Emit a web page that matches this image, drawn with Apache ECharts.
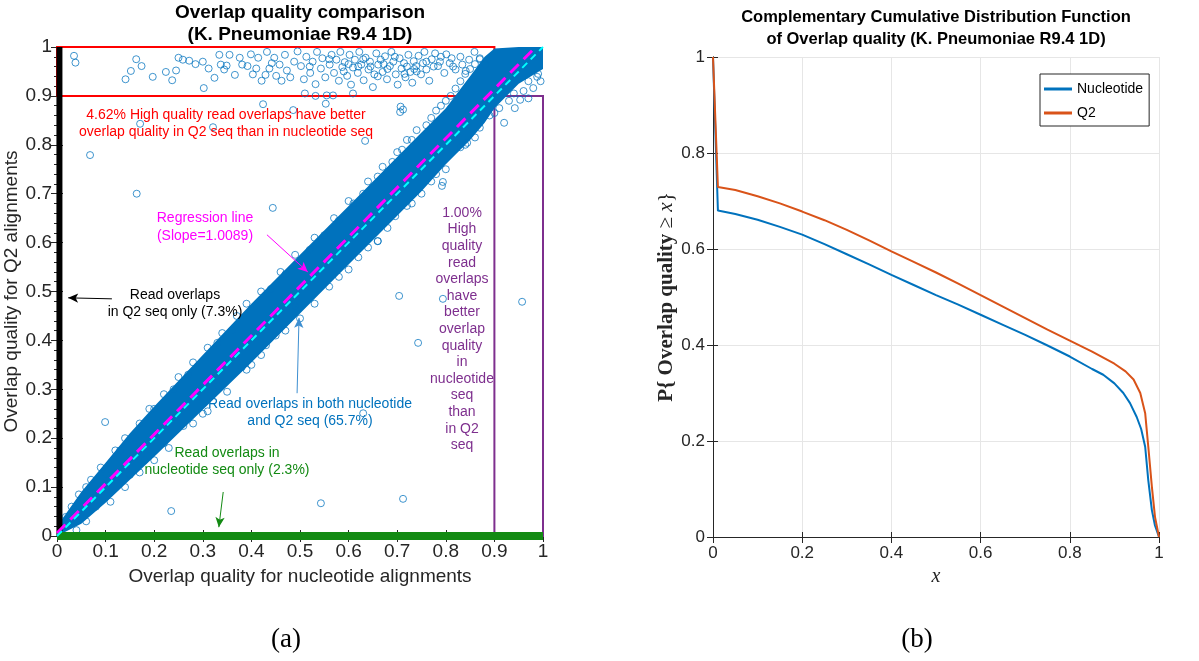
<!DOCTYPE html>
<html>
<head>
<meta charset="utf-8">
<script src="https://cdn.jsdelivr.net/npm/echarts@6/dist/echarts.min.js"></script>
<style>
html, body { margin: 0; padding: 0; background: #fff; }
#chart { width: 1199px; height: 661px; }
</style>
</head>
<body>
<div id="chart"></div>
<script>
// ---- (a) scatter: dense band of read overlaps found in both sequences ----
var bandX     = [0, 0.05, 0.1, 0.15, 0.2, 0.3, 0.4, 0.5, 0.6, 0.7, 0.75, 0.8, 0.85, 0.88, 0.9, 0.95, 1.0];
var bandUpper = [0.02, 0.09, 0.15, 0.21, 0.265, 0.37, 0.475, 0.575, 0.675, 0.775, 0.825, 0.875, 0.94, 0.98, 0.997, 1.0, 1.0];
var bandLower = [0, 0.025, 0.068, 0.115, 0.162, 0.258, 0.355, 0.455, 0.555, 0.655, 0.705, 0.76, 0.81, 0.845, 0.875, 0.925, 0.955];

// circles in the red box (Q2 much better)
var topCluster = [
  [0.035,0.982],[0.038,0.968],[0.141,0.934],[0.152,0.951],[0.163,0.975],[0.174,0.961],[0.197,0.939],
  [0.224,0.949],[0.237,0.932],[0.245,0.952],[0.25,0.978],[0.259,0.974],[0.272,0.972],[0.285,0.965],
  [0.30,0.97],[0.302,0.916],[0.312,0.956],[0.324,0.937],[0.334,0.984],[0.337,0.964],[0.344,0.954],
  [0.349,0.962],[0.355,0.984],[0.366,0.943],[0.376,0.978],[0.381,0.964],[0.392,0.961],[0.399,0.985],
  [0.403,0.944],[0.41,0.956],[0.414,0.978],[0.421,0.931],[0.429,0.943],[0.432,0.99],[0.437,0.956],
  [0.442,0.967],[0.447,0.978],[0.451,0.941],[0.458,0.964],[0.462,0.931],[0.469,0.984],[0.473,0.952],
  [0.48,0.938],[0.488,0.97],[0.495,0.991],[0.502,0.961],[0.508,0.934],[0.51,0.905],[0.513,0.98],
  [0.521,0.947],[0.526,0.97],[0.532,0.924],[0.535,0.99],[0.543,0.956],[0.546,0.977],[0.552,0.938],
  [0.555,0.901],[0.561,0.964],[0.565,0.984],[0.57,0.947],[0.575,0.974],[0.58,0.931],[0.583,0.99],
  [0.587,0.959],[0.592,0.969],[0.597,0.941],[0.602,0.984],[0.605,0.923],[0.609,0.958],[0.613,0.974],
  [0.619,0.947],[0.622,0.99],[0.626,0.964],[0.631,0.932],[0.635,0.978],[0.641,0.954],[0.644,0.97],
  [0.65,0.918],[0.653,0.944],[0.657,0.987],[0.661,0.964],[0.666,0.974],[0.67,0.949],[0.675,0.981],
  [0.679,0.934],[0.685,0.961],[0.688,0.99],[0.692,0.97],[0.697,0.944],[0.701,0.923],[0.705,0.977],
  [0.709,0.956],[0.714,0.967],[0.717,0.938],[0.723,0.984],[0.727,0.949],[0.731,0.927],[0.734,0.971],
  [0.739,0.961],[0.744,0.982],[0.749,0.944],[0.753,0.967],[0.756,0.99],[0.76,0.954],[0.766,0.931],
  [0.771,0.975],[0.778,0.987],[0.784,0.961],[0.788,0.97],[0.797,0.947],[0.801,0.985],[0.808,0.967],
  [0.812,0.977],[0.82,0.954],[0.83,0.98],[0.834,0.964],[0.841,0.951],[0.848,0.974],[0.859,0.99],
  [0.87,0.977],[0.881,0.964],[0.532,0.90],[0.568,0.901],[0.609,0.905],[0.553,0.884],[0.707,0.878],
  [0.712,0.872],[0.59,0.95],[0.62,0.96],[0.66,0.94],[0.68,0.955],[0.72,0.96],[0.74,0.95],[0.76,0.97],
  [0.63,0.975],[0.645,0.96],[0.672,0.965],[0.695,0.98],[0.715,0.945],[0.735,0.955],[0.775,0.96],
  [0.79,0.98],[0.815,0.96],[0.6,0.965],[0.56,0.975],[0.52,0.96]
];

// circles hugging the band edges
var edgeOutliers = [
  [0.018,0.039],[0.045,0.085],[0.07,0.115],[0.101,0.127],[0.13,0.175],[0.16,0.2],[0.2,0.26],[0.24,0.3],
  [0.27,0.33],[0.33,0.395],[0.36,0.42],[0.41,0.47],[0.44,0.505],[0.47,0.535],[0.52,0.585],[0.55,0.615],
  [0.58,0.645],[0.61,0.68],[0.63,0.70],[0.66,0.735],[0.69,0.765],[0.71,0.79],[0.73,0.81],[0.76,0.84],
  [0.78,0.87],[0.80,0.89],[0.82,0.915],[0.84,0.945],[0.86,0.965],[0.08,0.06],[0.15,0.125],[0.18,0.155],
  [0.22,0.19],[0.26,0.225],[0.30,0.25],[0.332,0.307],[0.38,0.345],[0.40,0.35],[0.43,0.39],[0.45,0.41],
  [0.498,0.468],[0.49,0.47],[0.5,0.445],[0.56,0.51],[0.6,0.545],[0.64,0.59],[0.66,0.603],[0.696,0.654],
  [0.72,0.675],[0.75,0.70],[0.78,0.74],[0.83,0.795],[0.87,0.835],[0.90,0.865],[0.92,0.845],[0.93,0.89],
  [0.942,0.875],[0.953,0.892],[0.96,0.91],[0.97,0.895],[0.98,0.916],[0.988,0.939],[0.995,0.93],
  [0.03,0.06],[0.06,0.1],[0.09,0.14],[0.12,0.175],[0.14,0.2],[0.17,0.23],[0.19,0.26],[0.22,0.29],
  [0.25,0.325],[0.28,0.355],[0.31,0.385],[0.34,0.415],[0.37,0.45],[0.39,0.475],[0.42,0.5],[0.46,0.54],
  [0.49,0.575],[0.53,0.61],[0.57,0.65],[0.6,0.685],[0.64,0.725],[0.67,0.755],[0.7,0.785],[0.72,0.81],
  [0.74,0.83],[0.77,0.855],[0.79,0.88],[0.81,0.9],[0.83,0.93],[0.85,0.955],[0.87,0.975],
  [0.04,0.012],[0.06,0.03],[0.11,0.07],[0.14,0.1],[0.17,0.13],[0.2,0.155],[0.23,0.18],[0.28,0.23],
  [0.31,0.255],[0.35,0.295],[0.39,0.34],[0.42,0.37],[0.47,0.42],[0.53,0.475],[0.58,0.53],[0.62,0.57],
  [0.68,0.63],[0.73,0.68],[0.77,0.725],[0.8,0.75],[0.84,0.8],[0.86,0.815],[0.89,0.86],[0.91,0.875],
  [0.94,0.905],[0.97,0.93],[0.99,0.945]
];

// isolated circles
var isolatedOutliers = [
  [0.068,0.779],[0.164,0.70],[0.171,0.843],[0.321,0.836],[0.424,0.883],[0.486,0.871],[0.444,0.671],
  [0.634,0.808],[0.706,0.867],[0.794,0.724],[0.792,0.716],[0.66,0.603],[0.704,0.491],[0.794,0.485],
  [0.957,0.479],[0.743,0.395],[0.844,0.804],[0.099,0.233],[0.235,0.051],[0.63,0.251],[0.543,0.067],
  [0.712,0.076]
];

var q2OnlyStrip = [[0.005, 0], [0.005, 1]];
var nucOnlyStrip = [[0, 0], [1, 0]];
var regressionLine = [[0, 0.006], [0.985, 1.0]];
var diagonalLine = [[0, 0], [1, 1]];

// ---- (b) CCDF curves ----
var nucleotideCurve = [
  [0,1.0],[0.011,0.680],[0.05,0.673],[0.1,0.661],[0.15,0.646],[0.2,0.630],[0.25,0.610],[0.3,0.589],
  [0.35,0.568],[0.4,0.546],[0.45,0.525],[0.5,0.504],[0.55,0.484],[0.6,0.463],[0.65,0.442],[0.7,0.421],
  [0.75,0.399],[0.8,0.376],[0.85,0.350],[0.875,0.338],[0.9,0.320],[0.92,0.300],[0.935,0.279],
  [0.95,0.250],[0.96,0.225],[0.969,0.188],[0.976,0.118],[0.984,0.056],[0.991,0.024],[1.0,0.0]
];
var q2Curve = [
  [0,1.0],[0.011,0.729],[0.05,0.723],[0.1,0.710],[0.15,0.695],[0.2,0.678],[0.25,0.660],[0.3,0.640],
  [0.35,0.618],[0.4,0.595],[0.45,0.573],[0.5,0.551],[0.55,0.528],[0.6,0.504],[0.65,0.480],[0.7,0.456],
  [0.75,0.432],[0.8,0.409],[0.85,0.386],[0.9,0.361],[0.925,0.345],[0.943,0.328],[0.958,0.300],
  [0.969,0.258],[0.976,0.188],[0.984,0.105],[0.991,0.042],[1.0,0.0]
];

var SANS = '"Liberation Sans", Arial, Helvetica, sans-serif';
var SERIF = '"Liberation Serif", "DejaVu Serif", serif';
var AX = '#262626';

function boxAxis(gridIndex, position, interval, minor) {
  return {
    type: 'value', gridIndex: gridIndex, position: position, min: 0, max: 1, interval: interval,
    axisLine: { show: true, lineStyle: { color: AX, width: 1 } },
    axisTick: { show: true, inside: true, length: 6, lineStyle: { color: AX } },
    minorTick: { show: minor, splitNumber: 5, length: 3, lineStyle: { color: AX } },
    axisLabel: { show: false },
    splitLine: { show: false }
  };
}

function textLine(x, y, text, color, size, weight) {
  return {
    type: 'text', x: x, y: y, z: 100,
    style: {
      text: text, fill: color, textAlign: 'center', textVerticalAlign: 'middle',
      font: (weight || 'normal') + ' ' + size + 'px ' + SANS
    }
  };
}

var purpleLines = ['1.00%', 'High', 'quality', 'read', 'overlaps', 'have', 'better', 'overlap',
  'quality', 'in', 'nucleotide', 'seq', 'than', 'in Q2', 'seq'];

var graphics = [
  textLine(300, 13, 'Overlap quality comparison', '#000', 19, 'bold'),
  textLine(300, 35, '(K. Pneumoniae R9.4 1D)', '#000', 19, 'bold'),
  textLine(936, 17, 'Complementary Cumulative Distribution Function', '#000', 16.5, 'bold'),
  textLine(936, 39, 'of Overlap quality (K. Pneumoniae R9.4 1D)', '#000', 16.5, 'bold'),
  textLine(226, 115, '4.62% High quality read overlaps have better', '#ff0000', 14),
  textLine(226, 132, 'overlap quality in Q2 seq than in nucleotide seq', '#ff0000', 14),
  textLine(205, 218, 'Regression line', '#ff00ff', 14),
  textLine(205, 236, '(Slope=1.0089)', '#ff00ff', 14),
  textLine(175, 295, 'Read overlaps', '#000', 14),
  textLine(175, 312, 'in Q2 seq only (7.3%)', '#000', 14),
  textLine(310, 404, 'Read overlaps in both nucleotide', '#0072BD', 14),
  textLine(310, 421, 'and Q2 seq (65.7%)', '#0072BD', 14),
  textLine(227, 453, 'Read overlaps in', '#138a13', 14),
  textLine(227, 470, 'nucleotide seq only (2.3%)', '#138a13', 14),
  {
    type: 'text', x: 286, y: 640, z: 100,
    style: { text: '(a)', fill: '#000', textAlign: 'center', textVerticalAlign: 'middle', font: '27px ' + SERIF }
  },
  {
    type: 'text', x: 917, y: 640, z: 100,
    style: { text: '(b)', fill: '#000', textAlign: 'center', textVerticalAlign: 'middle', font: '27px ' + SERIF }
  }
];
purpleLines.forEach(function (t, i) {
  graphics.push(textLine(462, 213 + i * 16.6, t, '#7E2F8E', 14));
});

var chart = echarts.init(document.getElementById('chart'));
chart.setOption({
  animation: false,
  backgroundColor: '#fff',
  grid: [
    { left: 57, top: 47, width: 486, height: 489 },
    { left: 713, top: 57, width: 446, height: 480 }
  ],
  legend: {
    data: ['Nucleotide', 'Q2'], orient: 'vertical', left: 1040, top: 74,
    backgroundColor: '#fff', borderColor: AX, borderWidth: 1, borderRadius: 0,
    padding: [8, 6, 6, 4], itemWidth: 28, itemHeight: 3, itemGap: 10, icon: 'rect',
    textStyle: { fontSize: 14, color: '#000', fontFamily: SANS, lineHeight: 14 }
  },
  xAxis: [
    {
      type: 'value', gridIndex: 0, min: 0, max: 1, interval: 0.1,
      name: 'Overlap quality for nucleotide alignments', nameLocation: 'middle', nameGap: 31,
      nameTextStyle: { fontSize: 19, color: AX, fontFamily: SANS },
      axisLine: { lineStyle: { color: AX } },
      axisTick: { inside: true, length: 6, lineStyle: { color: AX } },
      minorTick: { show: true, splitNumber: 5, length: 3, lineStyle: { color: AX } },
      axisLabel: { fontSize: 19, color: AX, fontFamily: SANS, margin: 6 },
      splitLine: { show: false }
    },
    boxAxis(0, 'top', 0.1, true),
    {
      type: 'value', gridIndex: 1, min: 0, max: 1, interval: 0.2,
      name: 'x', nameLocation: 'middle', nameGap: 28,
      nameTextStyle: { fontSize: 20, color: AX, fontFamily: SERIF, fontStyle: 'italic' },
      axisLine: { lineStyle: { color: AX } },
      axisTick: { inside: true, length: 5, lineStyle: { color: AX } },
      axisLabel: { fontSize: 17, color: AX, fontFamily: SANS, margin: 8 },
      splitLine: { show: true, lineStyle: { color: '#e6e6e6' } }
    },
    boxAxis(1, 'top', 0.2, false)
  ],
  yAxis: [
    {
      type: 'value', gridIndex: 0, min: 0, max: 1, interval: 0.1,
      name: 'Overlap quality for Q2 alignments', nameLocation: 'middle', nameGap: 32,
      nameTextStyle: { fontSize: 19, color: AX, fontFamily: SANS },
      axisLine: { lineStyle: { color: AX } },
      axisTick: { inside: true, length: 6, lineStyle: { color: AX } },
      minorTick: { show: true, splitNumber: 5, length: 3, lineStyle: { color: AX } },
      axisLabel: { fontSize: 19, color: AX, fontFamily: SANS, margin: 5 },
      splitLine: { show: false }
    },
    boxAxis(0, 'right', 0.1, true),
    {
      type: 'value', gridIndex: 1, min: 0, max: 1, interval: 0.2,
      name: '{b|P{ Overlap quality} {n|≥ }{i|x}{n|}}', nameLocation: 'middle', nameGap: 33,
      nameTextStyle: {
        fontSize: 21, color: AX, fontFamily: SERIF,
        rich: {
          b: { fontSize: 21, fontWeight: 'bold', fontFamily: SERIF, color: AX },
          n: { fontSize: 21, fontFamily: SERIF, color: AX },
          i: { fontSize: 21, fontFamily: SERIF, fontStyle: 'italic', color: AX }
        }
      },
      axisLine: { lineStyle: { color: AX } },
      axisTick: { inside: true, length: 5, lineStyle: { color: AX } },
      axisLabel: { fontSize: 17, color: AX, fontFamily: SANS, margin: 8 },
      splitLine: { show: true, lineStyle: { color: '#e6e6e6' } }
    },
    boxAxis(1, 'right', 0.2, false)
  ],
  series: [
    {
      type: 'custom', xAxisIndex: 0, yAxisIndex: 0, z: 2, silent: true,
      data: [[0, 0]],
      renderItem: function (params, api) {
        var pts = [];
        for (var i = 0; i < bandX.length; i++) pts.push(api.coord([bandX[i], bandUpper[i]]));
        for (var j = bandX.length - 1; j >= 0; j--) pts.push(api.coord([bandX[j], bandLower[j]]));
        return { type: 'polygon', shape: { points: pts }, style: { fill: '#0072BD' } };
      }
    },
    {
      type: 'scatter', xAxisIndex: 0, yAxisIndex: 0, z: 3, silent: true,
      symbol: 'circle', symbolSize: 7,
      itemStyle: { color: 'rgba(0,0,0,0)', borderColor: '#0072BD', borderWidth: 1, opacity: 0.75 },
      data: topCluster.concat(edgeOutliers, isolatedOutliers)
    },
    {
      type: 'line', xAxisIndex: 0, yAxisIndex: 0, z: 4, silent: true, clip: false,
      symbol: 'none', data: q2OnlyStrip, lineStyle: { color: '#000', width: 6 }
    },
    {
      type: 'line', xAxisIndex: 0, yAxisIndex: 0, z: 4, silent: true, clip: false,
      symbol: 'none', data: nucOnlyStrip, lineStyle: { color: '#138a13', width: 8 }
    },
    {
      type: 'line', xAxisIndex: 0, yAxisIndex: 0, z: 5, silent: true,
      symbol: 'none', data: regressionLine,
      lineStyle: { color: '#ff00ff', width: 3, type: [12, 7] }
    },
    {
      type: 'line', xAxisIndex: 0, yAxisIndex: 0, z: 6, silent: true,
      symbol: 'none', data: diagonalLine,
      lineStyle: { color: '#00ffff', width: 2, type: [7, 5] },
      markArea: {
        silent: true,
        label: { show: false },
        data: [
          [{ coord: [0, 0.9], itemStyle: { color: 'rgba(0,0,0,0)', borderColor: '#ff0000', borderWidth: 2 } }, { coord: [0.9, 1] }],
          [{ coord: [0.9, 0], itemStyle: { color: 'rgba(0,0,0,0)', borderColor: '#7E2F8E', borderWidth: 2 } }, { coord: [1, 0.9] }]
        ]
      },
      markLine: {
        silent: true, symbol: ['none', 'arrow'], symbolSize: [7, 10],
        label: { show: false },
        data: [
          [{ coord: [0.432, 0.616], lineStyle: { color: '#ff00ff', width: 1, type: 'solid' } }, { coord: [0.516, 0.54] }],
          [{ coord: [0.113, 0.485], lineStyle: { color: '#000', width: 1, type: 'solid' } }, { coord: [0.023, 0.487] }],
          [{ coord: [0.494, 0.292], lineStyle: { color: '#3d8fd1', width: 1, type: 'solid' } }, { coord: [0.498, 0.446] }],
          [{ coord: [0.342, 0.09], lineStyle: { color: '#138a13', width: 1, type: 'solid' } }, { coord: [0.333, 0.018] }]
        ]
      }
    },
    {
      name: 'Nucleotide', type: 'line', xAxisIndex: 2, yAxisIndex: 2, symbol: 'none',
      data: nucleotideCurve, lineStyle: { color: '#0072BD', width: 2 }, itemStyle: { color: '#0072BD' }
    },
    {
      name: 'Q2', type: 'line', xAxisIndex: 2, yAxisIndex: 2, symbol: 'none',
      data: q2Curve, lineStyle: { color: '#D95319', width: 2 }, itemStyle: { color: '#D95319' }
    }
  ],
  graphic: graphics
});
</script>
</body>
</html>
